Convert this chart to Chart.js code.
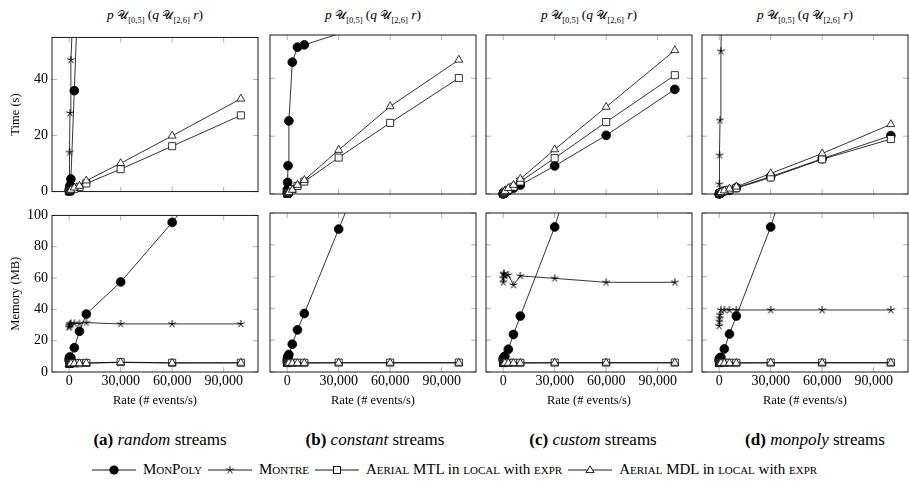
<!DOCTYPE html>
<html>
<head>
<meta charset="utf-8">
<script src="https://cdn.jsdelivr.net/npm/chart.js@4.4.1/dist/chart.umd.min.js"></script>
<style>
  html, body { margin: 0; padding: 0; background: #fff; }
  body { width: 909px; height: 489px; position: relative; overflow: hidden; font-family: "Liberation Serif", "Times New Roman", serif; color: #000; }
  canvas { position: absolute; }
  .ttl { position: absolute; top: 7px; width: 206px; text-align: center; font-size: 13.5px; white-space: nowrap; }
  .ttl .u { font-size: 11.5px; }
  .ttl sub { font-size: 8.5px; }
  .cap { position: absolute; top: 430px; width: 240px; text-align: center; font-size: 17px; white-space: nowrap; }
  .legend { position: absolute; top: 461px; left: 0; width: 909px; display: flex; justify-content: center; align-items: center; font-size: 15px; white-space: nowrap; }
  .legend .item { display: flex; align-items: center; margin: 0 3px; }
  .legend svg { margin-right: 7px; }
  .sc { font-variant: small-caps; }
</style>
</head>
<body>

<div class="ttl" style="left:52px"><i>p</i> <span class="u">𝒰</span><sub>[0,5]</sub> (<i>q</i> <span class="u">𝒰</span><sub>[2,6]</sub> <i>r</i>)</div>
<div class="ttl" style="left:270px"><i>p</i> <span class="u">𝒰</span><sub>[0,5]</sub> (<i>q</i> <span class="u">𝒰</span><sub>[2,6]</sub> <i>r</i>)</div>
<div class="ttl" style="left:486px"><i>p</i> <span class="u">𝒰</span><sub>[0,5]</sub> (<i>q</i> <span class="u">𝒰</span><sub>[2,6]</sub> <i>r</i>)</div>
<div class="ttl" style="left:702px"><i>p</i> <span class="u">𝒰</span><sub>[0,5]</sub> (<i>q</i> <span class="u">𝒰</span><sub>[2,6]</sub> <i>r</i>)</div>

<div class="cap" style="left:40px"><b>(a)</b> <i>random</i> streams</div>
<div class="cap" style="left:255px"><b>(b)</b> <i>constant</i> streams</div>
<div class="cap" style="left:473px"><b>(c)</b> <i>custom</i> streams</div>
<div class="cap" style="left:695px"><b>(d)</b> <i>monpoly</i> streams</div>

<div class="legend">
  <div class="item">
    <svg width="44" height="12"><line x1="0" y1="6" x2="44" y2="6" stroke="#000" stroke-width="0.9"/><circle cx="22" cy="6" r="4.6" fill="#000"/></svg>
    <span class="sc">MonPoly</span>
  </div>
  <div class="item">
    <svg width="44" height="12"><line x1="0" y1="6" x2="44" y2="6" stroke="#000" stroke-width="0.9"/><path d="M22 6L22 2M22 6L25.8 4.76M22 6L24.35 9.24M22 6L19.65 9.24M22 6L18.2 4.76" stroke="#000" stroke-width="0.9"/></svg>
    <span class="sc">Montre</span>
  </div>
  <div class="item">
    <svg width="44" height="12"><line x1="0" y1="6" x2="44" y2="6" stroke="#000" stroke-width="0.9"/><rect x="18.5" y="2.5" width="7" height="7" fill="#fff" stroke="#000" stroke-width="0.9"/></svg>
    <span><span class="sc">Aerial</span> MTL in <span class="sc">local</span> with <span class="sc">expr</span></span>
  </div>
  <div class="item">
    <svg width="44" height="12"><line x1="0" y1="6" x2="44" y2="6" stroke="#000" stroke-width="0.9"/><path d="M22 1.8L26 8.6L18 8.6Z" fill="#fff" stroke="#000" stroke-width="0.9"/></svg>
    <span><span class="sc">Aerial</span> MDL in <span class="sc">local</span> with <span class="sc">expr</span></span>
  </div>
</div>

<script>
// event rates (x values shared by every panel)
const rates = [10, 100, 250, 500, 1000, 3000, 6000, 10000, 30000, 60000, 100000];

// tick labels
const xTickVals = [0, 30000, 60000, 90000];
const timeTicks = [0, 20, 40];
const memTicks = [0, 20, 40, 60, 80, 100];

// (a) random streams
const timeMonpolyA = [0.2, 0.5, 1.2, 2.2, 4.5, 36, 85, null, null, null, null];
const timeMontreA  = [0.1, 1.5, 14, 28, 47, 75, null, null, null, null, null];
const timeMtlA     = [0.05, 0.1, 0.2, 0.3, 0.5, 1.0, 1.7, 2.9, 8.0, 16.2, 27.2];
const timeMdlA     = [0.05, 0.1, 0.2, 0.4, 0.6, 1.4, 2.0, 3.9, 10.1, 19.9, 33.1];
const memMonpolyA  = [7.5, 8.5, 9.5, 9.5, 9, 15.5, 26, 37, 57.5, 95.5, 152];
const memMontreA   = [28.5, 29, 30, 30.5, 31, 31, 31, 31.5, 30.7, 30.7, 30.7];
const memMtlA      = [5.2, 5.3, 5.4, 5.5, 5.5, 5.6, 5.6, 5.8, 6.3, 5.9, 5.9];
const memMdlA      = [5.0, 5.1, 5.2, 5.3, 5.4, 5.4, 5.5, 5.6, 6.1, 5.7, 5.8];

// (b) constant streams
const timeMonpolyB = [0.3, 1.5, 4, 9.8, 25.3, 45.6, 50.8, 51.6, 55.4, null, null];
const timeMontreB  = [null, null, null, null, null, null, null, null, null, null, null];
const timeMtlB     = [0.05, 0.1, 0.2, 0.3, 0.5, 1.7, 2.8, 4.3, 12.6, 24.6, 40.1];
const timeMdlB     = [0.05, 0.1, 0.2, 0.35, 0.6, 1.4, 3.1, 4.8, 15.2, 30.3, 46.4];
const memMonpolyB  = [6.5, 8, 9, 10, 11, 17.5, 26.5, 36.8, 89.9, 169, null];
const memMontreB   = [null, null, null, null, null, null, null, null, null, null, null];
const memMtlB      = [5.6, 5.7, 5.7, 5.8, 5.8, 5.8, 5.8, 5.8, 5.9, 5.9, 5.9];
const memMdlB      = [5.4, 5.5, 5.5, 5.6, 5.6, 5.6, 5.6, 5.6, 5.7, 5.7, 5.7];

// (c) custom streams
const timeMonpolyC = [0.05, 0.1, 0.2, 0.3, 0.5, 1.2, 2.0, 3.1, 9.7, 20.3, 36.2];
const timeMontreC  = [null, null, null, null, null, null, null, null, null, null, null];
const timeMtlC     = [0.05, 0.1, 0.3, 0.5, 0.8, 1.5, 2.5, 4.3, 12.4, 24.9, 41.1];
const timeMdlC     = [0.05, 0.15, 0.35, 0.6, 1.0, 2.0, 3.1, 5.2, 15.4, 30.1, 49.7];
const memMonpolyC  = [7.5, 8.4, 8.8, 9.5, 10, 14.3, 23.6, 35.2, 91.2, 197, null];
const memMontreC   = [59, 56.4, 61.6, 62, 60.5, 61, 54.7, 60.4, 58.9, 56.4, 56.4];
const memMtlC      = [5.6, 5.7, 5.7, 5.8, 5.8, 5.8, 5.8, 5.8, 5.9, 5.9, 5.9];
const memMdlC      = [5.4, 5.5, 5.5, 5.6, 5.6, 5.6, 5.6, 5.6, 5.7, 5.7, 5.7];

// (d) monpoly streams
const timeMonpolyD = [0.05, 0.1, 0.2, 0.3, 0.5, 1.0, 1.3, 2.2, 6.0, 12.2, 20.2];
const timeMontreD  = [0.3, 3.4, 13.4, 25.5, 49.4, 110, null, null, null, null, null];
const timeMtlD     = [0.05, 0.1, 0.2, 0.3, 0.5, 1.0, 1.5, 2.0, 5.7, 12.0, 19.0];
const timeMdlD     = [0.05, 0.1, 0.25, 0.4, 0.6, 1.2, 1.8, 2.5, 7.1, 14.0, 24.1];
const memMonpolyD  = [7, 8, 8.5, 9, 9.2, 14.5, 23.9, 35.2, 91.2, 195, null];
const memMontreD   = [29, 31.7, 33.8, 36, 39, 39, 39, 39, 39, 39, 39];
const memMtlD      = [5.6, 5.7, 5.7, 5.8, 5.8, 5.8, 5.8, 5.8, 5.9, 5.9, 5.9];
const memMdlD      = [5.4, 5.5, 5.5, 5.6, 5.6, 5.6, 5.6, 5.6, 5.7, 5.7, 5.7];

Chart.defaults.font.family = '"Liberation Serif", "Times New Roman", serif';
Chart.defaults.color = '#000';

// five-armed star mark like pgfplots "star"
function starMark(r) {
  const c = document.createElement('canvas');
  c.width = c.height = 2 * Math.ceil(r) + 4;
  const g = c.getContext('2d');
  const m = c.width / 2;
  g.strokeStyle = '#000';
  g.lineWidth = 1;
  g.beginPath();
  for (let k = 0; k < 5; k++) {
    const a = -Math.PI / 2 + k * 2 * Math.PI / 5;
    g.moveTo(m, m);
    g.lineTo(m + r * Math.cos(a), m + r * Math.sin(a));
  }
  g.stroke();
  return c;
}

const marks = [
  { label: 'MonPoly', pointStyle: 'circle', pointRadius: 4.4, bg: '#000', order: 3 },
  { label: 'Montre', pointStyle: starMark(4), pointRadius: 4, bg: '#000', order: 2 },
  { label: 'Aerial MTL', pointStyle: 'rect', pointRadius: 5, bg: '#fff', order: 1 },
  { label: 'Aerial MDL', pointStyle: 'triangle', pointRadius: 4.6, bg: '#fff', order: 0 }
];

// inward gray ticks on all four sides plus a black frame
const framePlugin = {
  id: 'frame',
  beforeDatasetsDraw(chart) {
    const { ctx, chartArea: a, scales: { x, y } } = chart;
    ctx.save();
    ctx.strokeStyle = '#a0a0a0';
    ctx.lineWidth = 0.8;
    ctx.beginPath();
    x.ticks.forEach(t => {
      const px = x.getPixelForValue(t.value);
      ctx.moveTo(px, a.bottom); ctx.lineTo(px, a.bottom - 5);
      ctx.moveTo(px, a.top); ctx.lineTo(px, a.top + 5);
    });
    y.ticks.forEach(t => {
      const py = y.getPixelForValue(t.value);
      ctx.moveTo(a.left, py); ctx.lineTo(a.left + 5, py);
      ctx.moveTo(a.right, py); ctx.lineTo(a.right - 5, py);
    });
    ctx.stroke();
    ctx.strokeStyle = '#000';
    ctx.lineWidth = 0.9;
    ctx.strokeRect(a.left, a.top, a.width, a.height);
    ctx.restore();
  }
};

const colLeft = [52, 270, 486, 702];
const rowTop = [35, 213];
const PW = 206, PH = 159;

function makePanel(col, row, yMax, yTicks, yTitle, series) {
  const padL = col === 0 ? 52 : 8;
  const padR = col === 3 ? 1 : 8;
  const padT = 10;
  const padB = row === 1 ? 40 : 10;
  const cv = document.createElement('canvas');
  cv.width = PW + padL + padR;
  cv.height = PH + padT + padB;
  cv.style.left = (colLeft[col] - padL) + 'px';
  cv.style.top = (rowTop[row] - padT) + 'px';
  cv.style.width = cv.width + 'px';
  cv.style.height = cv.height + 'px';
  document.body.appendChild(cv);

  const datasets = series.map((vals, i) => ({
    label: marks[i].label,
    data: rates.map((r, j) => ({ x: r, y: vals[j] })),
    borderColor: '#000',
    borderWidth: 0.8,
    backgroundColor: marks[i].bg,
    pointStyle: marks[i].pointStyle,
    // marks above the axis range are clipped away entirely
    pointRadius: c => (c.raw && c.raw.y > yMax ? 0 : marks[i].pointRadius),
    pointHoverRadius: marks[i].pointRadius,
    pointBorderColor: '#000',
    pointBackgroundColor: marks[i].bg,
    pointBorderWidth: 0.8,
    tension: 0,
    fill: false,
    spanGaps: false,
    order: marks[i].order,
    clip: { left: 10, right: 10, top: 0, bottom: 10 }
  }));

  new Chart(cv, {
    type: 'line',
    data: { datasets },
    options: {
      responsive: false,
      animation: false,
      events: [],
      layout: { autoPadding: false, padding: { left: 0, right: padR, top: padT, bottom: 0 } },
      plugins: { legend: { display: false }, tooltip: { enabled: false } },
      scales: {
        x: {
          type: 'linear',
          min: -10000,
          max: 110000,
          afterBuildTicks: s => { s.ticks = xTickVals.map(v => ({ value: v })); },
          afterFit: s => { s.height = padB; },
          grid: { display: false, drawTicks: false },
          border: { display: false },
          ticks: {
            display: row === 1,
            padding: 1,
            maxRotation: 0,
            font: { size: 14 },
            callback: v => v.toLocaleString('en-US')
          },
          title: {
            display: row === 1,
            text: 'Rate (# events/s)',
            font: { size: 12.5 },
            padding: { top: 0, bottom: 4 }
          }
        },
        y: {
          type: 'linear',
          min: 0,
          max: yMax,
          afterBuildTicks: s => { s.ticks = yTicks.map(v => ({ value: v })); },
          afterFit: s => { s.width = padL; },
          grid: { display: false, drawTicks: false },
          border: { display: false },
          ticks: { display: col === 0, padding: 4, font: { size: 14 } },
          title: {
            display: col === 0,
            text: yTitle,
            font: { size: 12.5 },
            padding: { top: 8, bottom: 0 }
          }
        }
      }
    },
    plugins: [framePlugin]
  });
}

makePanel(0, 0, 55, timeTicks, 'Time (s)', [timeMonpolyA, timeMontreA, timeMtlA, timeMdlA]);
makePanel(1, 0, 55, timeTicks, 'Time (s)', [timeMonpolyB, timeMontreB, timeMtlB, timeMdlB]);
makePanel(2, 0, 55, timeTicks, 'Time (s)', [timeMonpolyC, timeMontreC, timeMtlC, timeMdlC]);
makePanel(3, 0, 55, timeTicks, 'Time (s)', [timeMonpolyD, timeMontreD, timeMtlD, timeMdlD]);
makePanel(0, 1, 100, memTicks, 'Memory (MB)', [memMonpolyA, memMontreA, memMtlA, memMdlA]);
makePanel(1, 1, 100, memTicks, 'Memory (MB)', [memMonpolyB, memMontreB, memMtlB, memMdlB]);
makePanel(2, 1, 100, memTicks, 'Memory (MB)', [memMonpolyC, memMontreC, memMtlC, memMdlC]);
makePanel(3, 1, 100, memTicks, 'Memory (MB)', [memMonpolyD, memMontreD, memMtlD, memMdlD]);
</script>
</body>
</html>
